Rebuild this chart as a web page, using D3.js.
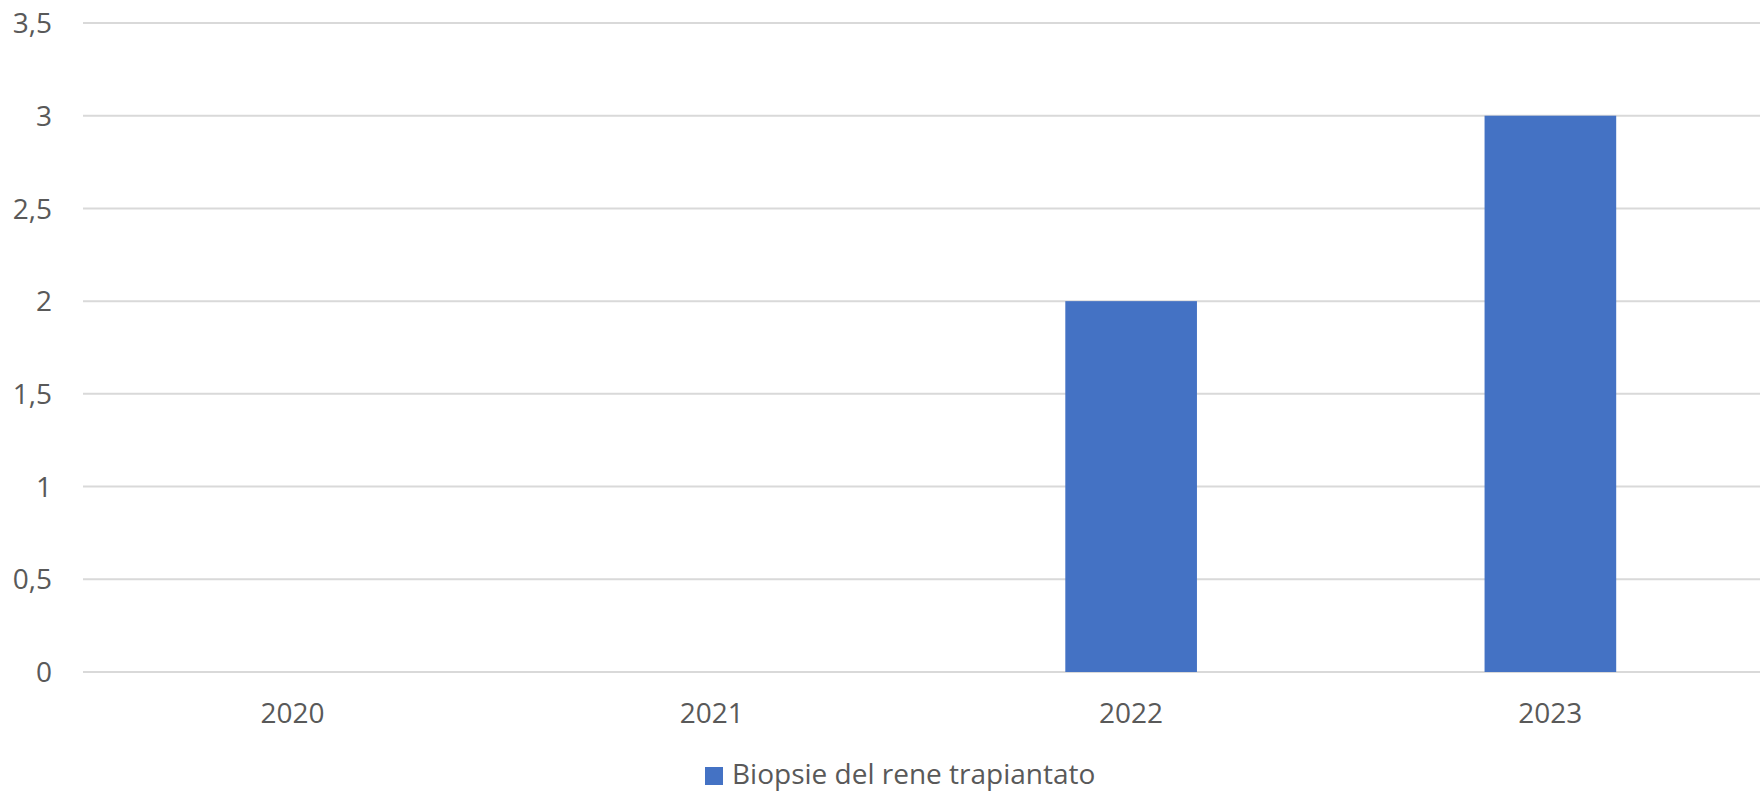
<!DOCTYPE html>
<html>
<head>
<meta charset="utf-8">
<script src="https://cdn.jsdelivr.net/npm/d3@7"></script>
<style>
  body { margin: 0; background: #fff; }
  text { font-family: "Open Sans", sans-serif; fill: #595959; }
</style>
</head>
<body>
<svg id="chart" width="1763" height="792"></svg>
<script>
var years = ["2020", "2021", "2022", "2023"];
var biopsie = [0, 0, 2, 3];
var yTicks = [0, 0.5, 1, 1.5, 2, 2.5, 3, 3.5];
var seriesName = "Biopsie del rene trapiantato";

var svg = d3.select("#chart"),
    width = +svg.attr("width"),
    height = +svg.attr("height");

var margin = {left: 83, right: 3, top: 23, bottom: 120};

var x = d3.scaleBand()
    .domain(years)
    .range([margin.left, width - margin.right])
    .paddingInner(0.686)
    .paddingOuter(0.343);

var y = d3.scaleLinear()
    .domain([0, 3.5])
    .range([height - margin.bottom, margin.top]);

var fmt = function (d) { return String(d).replace(".", ","); };

// grid
svg.append("g")
    .selectAll("line")
    .data(yTicks)
    .enter().append("line")
    .attr("x1", margin.left)
    .attr("x2", width - margin.right)
    .attr("y1", function (d) { return y(d); })
    .attr("y2", function (d) { return y(d); })
    .attr("stroke", "#d9d9d9")
    .attr("stroke-width", 2);

// y labels
svg.append("g")
    .selectAll("text")
    .data(yTicks)
    .enter().append("text")
    .attr("x", 52)
    .attr("y", function (d) { return y(d); })
    .attr("dy", "0.36em")
    .attr("text-anchor", "end")
    .style("font-size", "28px")
    .text(fmt);

// bars
svg.append("g")
    .selectAll("rect")
    .data(years)
    .enter().append("rect")
    .attr("x", function (d) { return x(d); })
    .attr("width", x.bandwidth())
    .attr("y", function (d, i) { return y(biopsie[i]); })
    .attr("height", function (d, i) { return y(0) - y(biopsie[i]); })
    .attr("fill", "#4472c4");

// x labels
svg.append("g")
    .selectAll("text")
    .data(years)
    .enter().append("text")
    .attr("x", function (d) { return x(d) + x.bandwidth() / 2; })
    .attr("y", 723)
    .attr("text-anchor", "middle")
    .style("font-size", "28px")
    .text(function (d) { return d; });

// legend
var legend = svg.append("g");
legend.append("rect")
    .attr("x", 705)
    .attr("y", 767)
    .attr("width", 18)
    .attr("height", 18)
    .attr("fill", "#4472c4");
legend.append("text")
    .attr("x", 732)
    .attr("y", 784)
    .style("font-size", "28px")
    .text(seriesName);
</script>
</body>
</html>
